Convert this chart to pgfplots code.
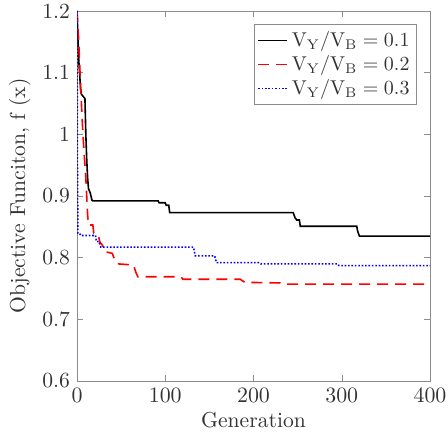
\documentclass[border=0pt]{standalone}
\usepackage{pgfplots}
\pgfplotsset{compat=1.18}
\begin{document}
\begin{tikzpicture}[font=\fontsize{10.8pt}{13pt}\selectfont]
\begin{axis}[
  scale only axis,
  width=176.5pt, height=185pt,
  xmin=0, xmax=400, ymin=0.6, ymax=1.2,
  xtick={0,100,200,300,400},
  ytick={0.6,0.7,0.8,0.9,1.0,1.1,1.2},
  yticklabels={0.6,0.7,0.8,0.9,1,1.1,1.2},
  tick align=inside,
  major tick length=3pt,
  axis line style={black!45},
  tick style={black!45},
  ticklabel style={text=black!80, font=\fontsize{10.8pt}{13pt}\selectfont},
  label style={text=black!80, font=\fontsize{10.8pt}{13pt}\selectfont},
  xlabel={Generation},
  ylabel={Objective Funciton, f (x)},
  xlabel style={yshift=2pt},
  ylabel style={yshift=-1pt},
  legend style={at={(rel axis cs:0.963,0.965)}, anchor=north east, draw=black!45, inner sep=1.5pt, row sep=-1pt, font=\fontsize{10pt}{12pt}\selectfont, text=black!80, legend cell align=left},
  legend image code/.code={\draw[#1] (0pt,0pt) -- (14.5pt,0pt);},
]
\addplot[black, line width=0.8pt] coordinates {
(0,1.2)(2,1.12)(4,1.075)(5,1.065)(9,1.058)(10,1.0)(11,0.96)(12,0.93)(13,0.912)(15,0.905)(17,0.893)(18,0.892)
(92,0.892)(93,0.889)(100,0.889)(101,0.885)(104,0.885)(105,0.873)
(245,0.873)(247,0.865)(249,0.861)(252,0.861)(253,0.851)
(317,0.851)(318,0.843)(320,0.835)(400,0.835)};
\addlegendentry{$\mathrm{V_Y/V_B}=0.1$}
\addplot[red, line width=0.8pt, dash pattern=on 5.5pt off 3.5pt] coordinates {
(0,1.2)(2,1.15)(4,1.08)(6,1.02)(8,0.97)(10,0.93)(12,0.87)(13,0.853)(18,0.853)(19,0.84)(24,0.837)(26,0.825)(29,0.82)(31,0.81)(40,0.807)(43,0.795)(46,0.79)(64,0.788)(67,0.775)(69,0.769)
(118,0.769)(120,0.765)(185,0.765)(190,0.76)(230,0.759)(232,0.757)(400,0.757)};
\addlegendentry{$\mathrm{V_Y/V_B}=0.2$}
\addplot[blue, line width=0.8pt, dash pattern=on 0.8pt off 0.9pt] coordinates {
(0,1.2)(0.5,0.95)(1,0.84)(3,0.84)(4,0.836)(21,0.836)(22,0.826)(25,0.826)(27,0.817)
(132,0.817)(134,0.803)(156,0.803)(158,0.792)(206,0.792)(208,0.790)(295,0.790)(297,0.787)(400,0.787)};
\addlegendentry{$\mathrm{V_Y/V_B}=0.3$}
\end{axis}
\pgfresetboundingbox
\path ([shift={(-38.5pt,-32.5pt)}]current axis.south west) rectangle ([shift={(9pt,5.5pt)}]current axis.north east);
\end{tikzpicture}
\end{document}
